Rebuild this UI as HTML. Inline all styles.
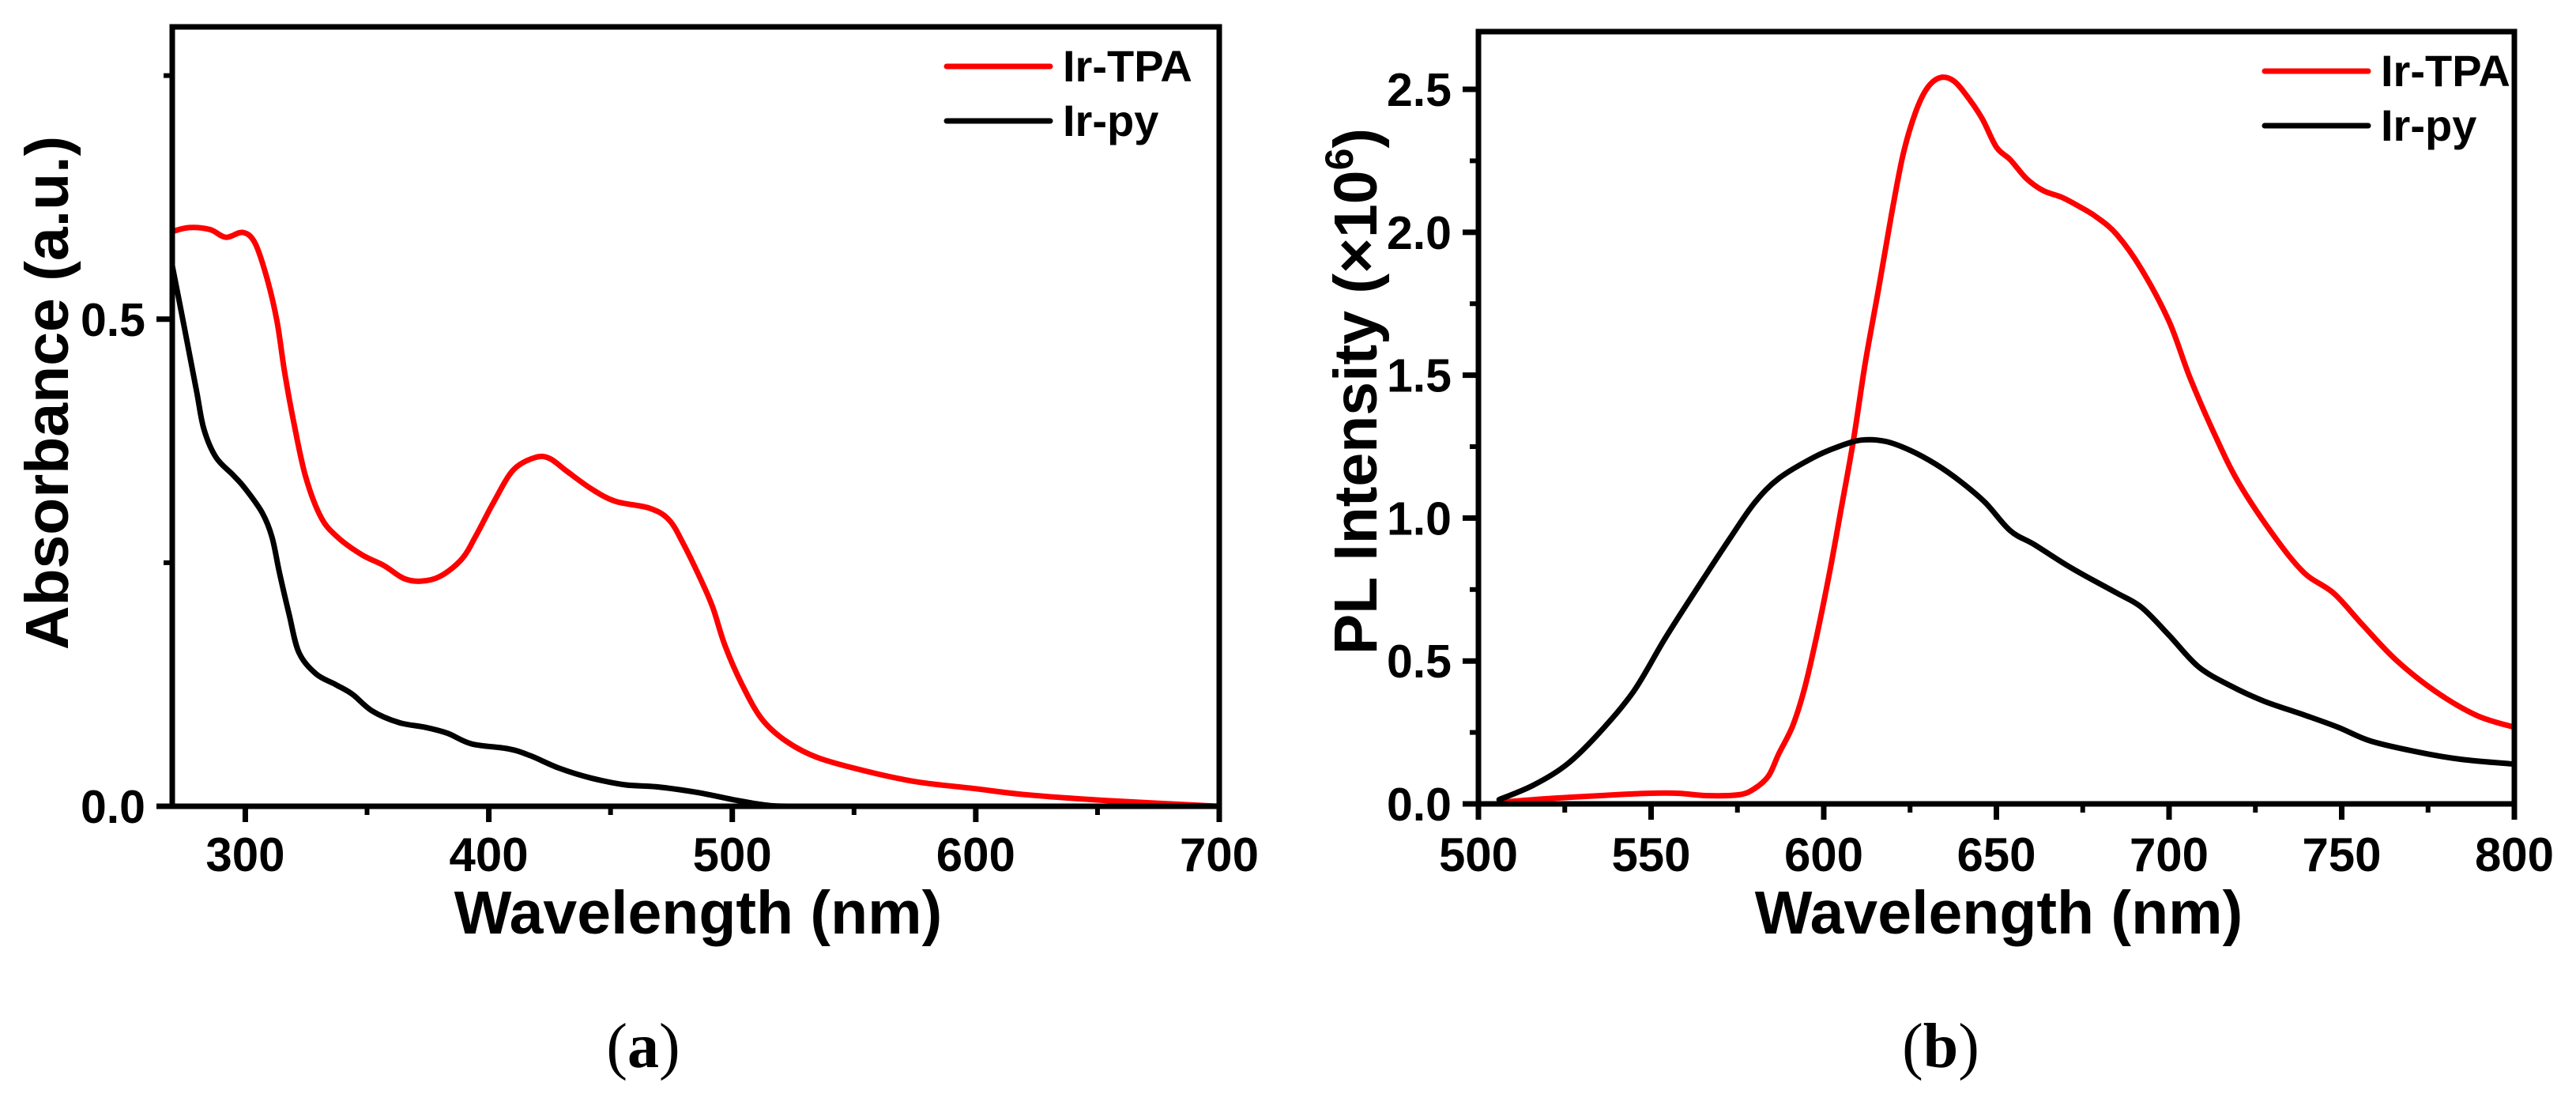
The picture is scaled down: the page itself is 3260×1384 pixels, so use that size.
<!DOCTYPE html>
<html>
<head>
<meta charset="utf-8">
<style>
html,body{margin:0;padding:0;background:#fff;}
svg{display:block;}
text{font-family:"Liberation Sans",Arial,sans-serif;font-weight:bold;fill:#000;}
.serif{font-family:"Liberation Serif","Times New Roman",serif;font-weight:normal;}
</style>
</head>
<body>
<svg id="fig" width="3260" height="1384" viewBox="0 0 3260 1384" xmlns="http://www.w3.org/2000/svg">
  <g id="panelA"></g>
  <g id="panelB"></g>
</svg>
<script>
// ---- Panel (a) data: absorbance ----
const absTpaX = [270,277,285.5,292,299,304,309,313,316,319.6,324.6,331,338,348,357,365,372,380,389,395,402,410,419,425,432,442,452,466,474,480,487,492,497,504,512,522,535,555,576,600,620,653,700];
const absTpaY = [0.59,0.594,0.592,0.584,0.589,0.578,0.541,0.498,0.448,0.398,0.340,0.297,0.276,0.258,0.247,0.234,0.231,0.236,0.254,0.279,0.312,0.345,0.358,0.357,0.344,0.326,0.313,0.306,0.294,0.269,0.233,0.204,0.165,0.125,0.090,0.067,0.050,0.036,0.025,0.018,0.012,0.006,0.0];
const absPyX = [270,275,280,283,288,295,300,307,311,314,318,322,329,337,344,352,363,374,383,393,408,417,429,442,456,469,486,500,513,524,560,620,700];
const absPyY = [0.555,0.491,0.426,0.387,0.358,0.340,0.326,0.301,0.276,0.240,0.197,0.158,0.136,0.125,0.115,0.098,0.086,0.081,0.075,0.064,0.059,0.052,0.039,0.029,0.022,0.020,0.014,0.007,0.0015,0,0,0,0];
const absXTicks = [300,400,500,600,700];
const absXMinor = [350,450,550,650];
const absYTicks = [0.0,0.5];
const absYTickLabels = ["0.0","0.5"];
const absYMinor = [0.25,0.75];

// ---- Panel (b) data: PL intensity ----
const plTpaX = [506,516,528,540,549,558,566,575.5,580,584,587,591,594.5,598,601.7,605,608.6,612,616,619.5,623,626.6,630,633.7,637.7,642,646,650,654,658.7,663.5,669,674,678.9,684.8,692,700,706,713,720,730,739,747.7,756,765.6,777,789,800];
const plTpaY = [0.005,0.015,0.024,0.032,0.037,0.037,0.029,0.032,0.054,0.098,0.176,0.273,0.407,0.590,0.810,1.029,1.273,1.541,1.810,2.054,2.273,2.420,2.505,2.541,2.529,2.468,2.395,2.298,2.254,2.188,2.146,2.122,2.090,2.054,1.993,1.871,1.688,1.493,1.298,1.127,0.944,0.810,0.737,0.627,0.505,0.395,0.310,0.268];
const plPyX = [506,516,525.7,535,545,554,563.7,573,580,587,597,604,611,618,625,632.5,639.7,646.8,654,661,670.5,677.7,685,692,700,708.5,718,727.6,739.4,749,758.4,772.7,784.6,800];
const plPyY = [0.015,0.066,0.139,0.249,0.395,0.578,0.761,0.932,1.054,1.139,1.212,1.249,1.273,1.268,1.237,1.188,1.127,1.054,0.956,0.907,0.834,0.785,0.737,0.688,0.590,0.480,0.412,0.359,0.310,0.268,0.220,0.180,0.156,0.139];
const plXTicks = [500,550,600,650,700,750,800];
const plXMinor = [525,575,625,675,725,775];
const plYTicks = [0,0.5,1.0,1.5,2.0,2.5];
const plYTickLabels = ["0.0","0.5","1.0","1.5","2.0","2.5"];
const plYMinor = [0.25,0.75,1.25,1.75,2.25];

const NS = "http://www.w3.org/2000/svg";
function mk(tag, attrs, parent){
  const e = document.createElementNS(NS, tag);
  for (const k in attrs) e.setAttribute(k, attrs[k]);
  parent.appendChild(e);
  return e;
}
function smoothPath(pts){
  let d = "M" + pts[0][0].toFixed(1) + "," + pts[0][1].toFixed(1);
  for (let i = 0; i < pts.length - 1; i++){
    const p0 = pts[Math.max(0,i-1)], p1 = pts[i], p2 = pts[i+1], p3 = pts[Math.min(pts.length-1,i+2)];
    const c1x = p1[0] + (p2[0]-p0[0])/6, c1y = p1[1] + (p2[1]-p0[1])/6;
    const c2x = p2[0] - (p3[0]-p1[0])/6, c2y = p2[1] - (p3[1]-p1[1])/6;
    d += "C" + c1x.toFixed(1) + "," + c1y.toFixed(1) + " " + c2x.toFixed(1) + "," + c2y.toFixed(1) + " " + p2[0].toFixed(1) + "," + p2[1].toFixed(1);
  }
  return d;
}

function drawPanel(g, cfg){
  const {L,R,T,B,xMin,xMax,yMin,yMax} = cfg;
  const sx = v => L + (v - xMin) / (xMax - xMin) * (R - L);
  const sy = v => B - (v - yMin) / (yMax - yMin) * (B - T);

  cfg.series.forEach(s => {
    const pts = s.x.map((xv,i) => [sx(xv), sy(s.y[i])]);
    const p = mk("path", {d:smoothPath(pts), fill:"none", stroke:s.color, "stroke-width":7, "stroke-linejoin":"round", "stroke-linecap":"round"}, g);
    
    
  });

  const fr = mk("rect", {x:L, y:T, width:R-L, height:B-T, fill:"none", stroke:"#000", "stroke-width":7}, g);
  
  

  cfg.xTicks.forEach(v => {
    const t = mk("line", {x1:sx(v), x2:sx(v), y1:B, y2:B+20, stroke:"#000", "stroke-width":7}, g);
    
    
    const lb = mk("text", {x:sx(v), y:1102, "font-size":60, "text-anchor":"middle"}, g);
    lb.textContent = String(v);
    
    
  });
  cfg.xMinor.forEach(v => {
    const t = mk("line", {x1:sx(v), x2:sx(v), y1:B, y2:B+11, stroke:"#000", "stroke-width":6}, g);
    
    
  });
  cfg.yTicks.forEach((v,i) => {
    const t = mk("line", {x1:L-20, x2:L, y1:sy(v), y2:sy(v), stroke:"#000", "stroke-width":7}, g);
    
    
    const lb = mk("text", {x:L-34, y:sy(v)+21, "font-size":59, "text-anchor":"end"}, g);
    lb.textContent = cfg.yTickLabels[i];
    
    
  });
  cfg.yMinor.forEach(v => {
    const t = mk("line", {x1:L-11, x2:L, y1:sy(v), y2:sy(v), stroke:"#000", "stroke-width":6}, g);
    
    
  });

  const xt = mk("text", {x:(L+R)/2+3, y:1181, "font-size":77, "text-anchor":"middle"}, g);
  xt.textContent = "Wavelength (nm)";
  
  

  cfg.series.forEach((s,i) => {
    const ly = cfg.legY + i*69;
    const ln = mk("line", {x1:cfg.legX, x2:cfg.legX+131, y1:ly, y2:ly, stroke:s.color, "stroke-width":7, "stroke-linecap":"round"}, g);
    
    
    const tx = mk("text", {x:cfg.legX+147, y:ly+19, "font-size":56}, g);
    tx.textContent = s.label;
    
    
  });

  const pl = mk("text", {x:cfg.letterX, y:1350, "font-size":80, "text-anchor":"middle", class:"serif"}, g);
  
  
  pl.appendChild(document.createTextNode("("));
  const lt = mk("tspan", {"font-weight":"bold"}, pl);
  lt.textContent = cfg.letter;
  pl.appendChild(document.createTextNode(")"));
}

const gA = document.getElementById("panelA");
drawPanel(gA, {L:218,R:1543,T:34,B:1020,xMin:270,xMax:700,yMin:0,yMax:0.8,
  xTicks:absXTicks,xMinor:absXMinor,yTicks:absYTicks,yTickLabels:absYTickLabels,yMinor:absYMinor,
  series:[{name:"ir-tpa-absorbance-line",label:"Ir-TPA",color:"#ff0000",x:absTpaX,y:absTpaY},
          {name:"ir-py-absorbance-line",label:"Ir-py",color:"#000000",x:absPyX,y:absPyY}],
  legX:1198,legY:84,letterX:814,letter:"a"});
const ya = mk("text", {x:0, y:0, "font-size":77, "text-anchor":"middle", transform:"translate(86,497) rotate(-90)"}, gA);
ya.textContent = "Absorbance (a.u.)";



const gB = document.getElementById("panelB");
drawPanel(gB, {L:1871,R:3182,T:40,B:1017,xMin:500,xMax:800,yMin:0,yMax:2.702,
  xTicks:plXTicks,xMinor:plXMinor,yTicks:plYTicks,yTickLabels:plYTickLabels,yMinor:plYMinor,
  series:[{name:"ir-tpa-pl-line",label:"Ir-TPA",color:"#ff0000",x:plTpaX,y:plTpaY},
          {name:"ir-py-pl-line",label:"Ir-py",color:"#000000",x:plPyX,y:plPyY}],
  legX:2866,legY:90,letterX:2456,letter:"b"});
const yb = mk("text", {x:0, y:0, "font-size":77, "text-anchor":"middle", transform:"translate(1742,495) rotate(-90)"}, gB);


yb.appendChild(document.createTextNode("PL Intensity (×10"));
const sup = mk("tspan", {"font-size":50, dy:-30}, yb);
sup.textContent = "6";
const cl = mk("tspan", {dy:30}, yb);
cl.textContent = ")";
</script>
</body>
</html>
